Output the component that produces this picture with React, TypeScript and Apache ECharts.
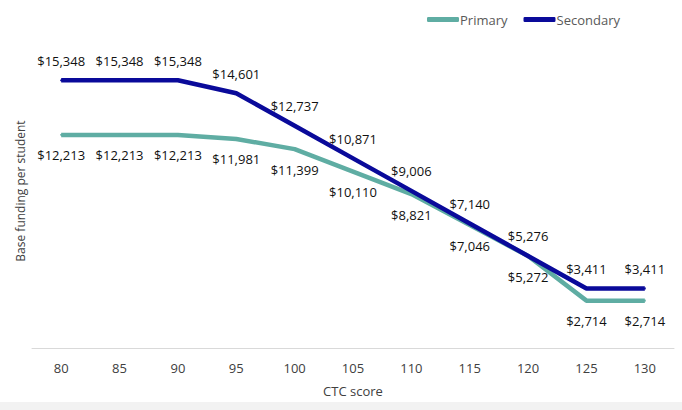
import React, { useEffect, useRef } from "react";
import * as echarts from "echarts";

const categories = ["80", "85", "90", "95", "100", "105", "110", "115", "120", "125", "130"];
const primary = [12213, 12213, 12213, 11981, 11399, 10110, 8821, 7046, 5272, 2714, 2714];
const secondary = [15348, 15348, 15348, 14601, 12737, 10871, 9006, 7140, 5276, 3411, 3411];

const fmt = (v: number) => "$" + v.toLocaleString("en-US");

export default function App() {
  const ref = useRef<HTMLDivElement>(null);
  useEffect(() => {
    const chart = echarts.init(ref.current!, undefined, { renderer: "svg" });
    const font = "Open Sans";
    chart.setOption({
      animation: false,
      backgroundColor: "#ffffff",
      textStyle: { fontFamily: font },
      legend: {
        top: 8,
        left: 422,
        itemWidth: 32,
        itemHeight: 5,
        itemGap: 16,
        icon: "roundRect",
        textStyle: { fontFamily: font, fontSize: 13, color: "#595959", padding: [0, 0, 0, -4] },
        data: ["Primary", "Secondary"],
      },
      grid: { left: 32, right: 8, top: 34, bottom: 50, containLabel: false },
      xAxis: {
        type: "category",
        data: categories,
        boundaryGap: true,
        name: "CTC score",
        nameLocation: "middle",
        nameGap: 36,
        nameTextStyle: { fontFamily: font, fontSize: 13, color: "#404040" },
        axisLine: { show: true, lineStyle: { color: "#d9d9d9", width: 1 } },
        axisTick: { show: false },
        axisLabel: { fontFamily: font, fontSize: 13, color: "#404040", margin: 13 },
      },
      yAxis: {
        type: "value",
        min: 0,
        max: 18000,
        interval: 2000,
        name: "Base funding per student",
        nameLocation: "middle",
        nameGap: 6,
        nameTextStyle: { fontFamily: font, fontSize: 12, color: "#404040" },
        axisLine: { show: false },
        axisTick: { show: false },
        axisLabel: { show: false },
        splitLine: { show: false },
      },
      series: [
        {
          name: "Primary",
          type: "line",
          data: primary,
          showSymbol: true,
          symbol: "circle",
          symbolSize: 2,
          itemStyle: { color: "#5FADA3" },
          color: "#5FADA3",
          lineStyle: { width: 4.5, color: "#5FADA3" },
          label: {
            show: true,
            position: "bottom",
            distance: 13,
            formatter: (p: any) => fmt(p.value),
            fontFamily: font,
            fontSize: 13,
            color: "#111111",
          },
          z: 2,
        },
        {
          name: "Secondary",
          type: "line",
          data: secondary,
          showSymbol: true,
          symbol: "circle",
          symbolSize: 2,
          itemStyle: { color: "#0A0A9A" },
          color: "#0A0A9A",
          lineStyle: { width: 4.5, color: "#0A0A9A" },
          label: {
            show: true,
            position: "top",
            distance: 12,
            formatter: (p: any) => fmt(p.value),
            fontFamily: font,
            fontSize: 13,
            color: "#111111",
          },
          z: 3,
        },
      ],
    });
    return () => chart.dispose();
  }, []);
  return (
    <div style={{ position: "fixed", left: 0, top: 0, width: 682, height: 410, background: "#f2f2f2" }}>
      <div ref={ref} style={{ width: 682, height: 402 }} />
    </div>
  );
}
